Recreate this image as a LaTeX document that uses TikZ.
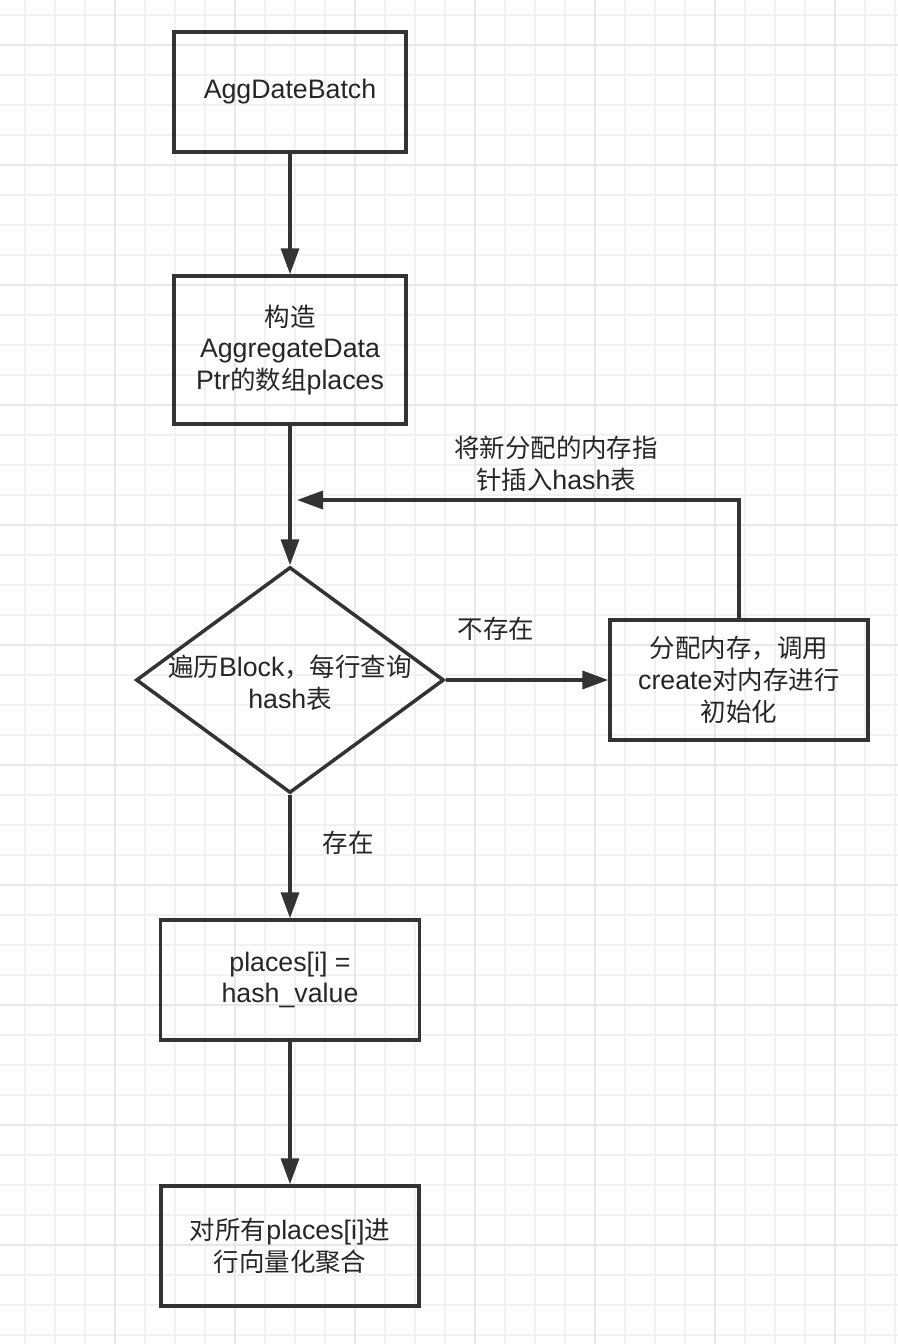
\documentclass[tikz,border=0pt]{standalone}
\usepackage{fontspec}
\setmainfont[Scale=1.05]{Liberation Sans}
\newfontfamily\cjk{Noto Sans CJK SC}
\newcommand{\zh}[1]{{\cjk #1}}
\usetikzlibrary{arrows.meta,shapes.geometric}
\definecolor{linec}{HTML}{333333}
\definecolor{textc}{HTML}{262626}
\definecolor{gridminor}{HTML}{F1F1F1}
\definecolor{gridmajor}{HTML}{E7E7E7}
\tikzset{
    box/.style={draw=linec, line width=2pt, rectangle, align=center, text=textc},
    dia/.style={draw=linec, line width=2pt, diamond, minimum width=6.16cm, minimum height=4.52cm, inner sep=0pt},
    lbl/.style={align=center, text=textc},
    arr/.style={draw=linec, line width=2pt, -{Triangle[length=0.52cm, width=0.36cm]}},
    gridline/.style={draw=gridminor, line width=0.7pt},
    gridbold/.style={draw=gridmajor, line width=0.7pt}
}
\begin{document}
\begin{tikzpicture}[x=0.02cm, y=-0.02cm, font=\fontsize{14.5}{18.1}\selectfont]
        \useasboundingbox[fill=white] (0, 0) rectangle (898, 1344);
        % grid
        \foreach \gx in {25,55,...,895} \draw[gridline] (\gx, 0)--(\gx, 1344);
        \foreach \gy in {15,45,...,1335} \draw[gridline] (0, \gy)--(898, \gy);
        \foreach \gx in {115,235,...,835} \draw[gridbold] (\gx, 0)--(\gx, 1344);
        \foreach \gy in {45,165,...,1245} \draw[gridbold] (0, \gy)--(898, \gy);

        \node[box, minimum width=4.64cm, minimum height=2.4cm] (batch) at (290, 92) {AggDateBatch};
        \node[box, minimum width=4.64cm, minimum height=2.96cm] (places) at (290, 350) {\zh{构造}\\AggregateData\\Ptr\zh{的数组}places};
        \node[dia] (lookup) at (290, 680) {};
        \node[lbl] (lookuptext) at (290, 683) {\zh{遍历}Block\zh{，每行查询}\\hash\zh{表}};
        \node[box, minimum width=5.16cm, minimum height=2.4cm] (alloc) at (739, 680) {\zh{分配内存，调用}\\create\zh{对内存进行}\\\zh{初始化}};
        \node[box, minimum width=5.18cm, minimum height=2.4cm] (assign) at (290, 980) {places[i] =\\hash\_value};
        \node[box, minimum width=5.16cm, minimum height=2.4cm] (agg) at (290, 1246) {\zh{对所有}places[i]\zh{进}\\\zh{行向量化聚合}};

        \coordinate (back) at (297, 500);

        \draw[arr] (batch)--(places);
        \draw[arr] (places)--(lookup);
        \draw[arr] (lookup.east)--(alloc.west);
        \draw[arr] (alloc.north) |- (back);
        \draw[arr] (lookup.south)--(assign);
        \draw[arr] (assign)--(agg);

        \node[lbl] (nolabel) at (496, 629) {\zh{不存在}};
        \node[lbl] (yeslabel) at (348, 843) {\zh{存在}};
        \node[lbl] (backlabel) at (556, 464) {\zh{将新分配的内存指}\\\zh{针插入}hash\zh{表}};
    \end{tikzpicture}
\end{document}
